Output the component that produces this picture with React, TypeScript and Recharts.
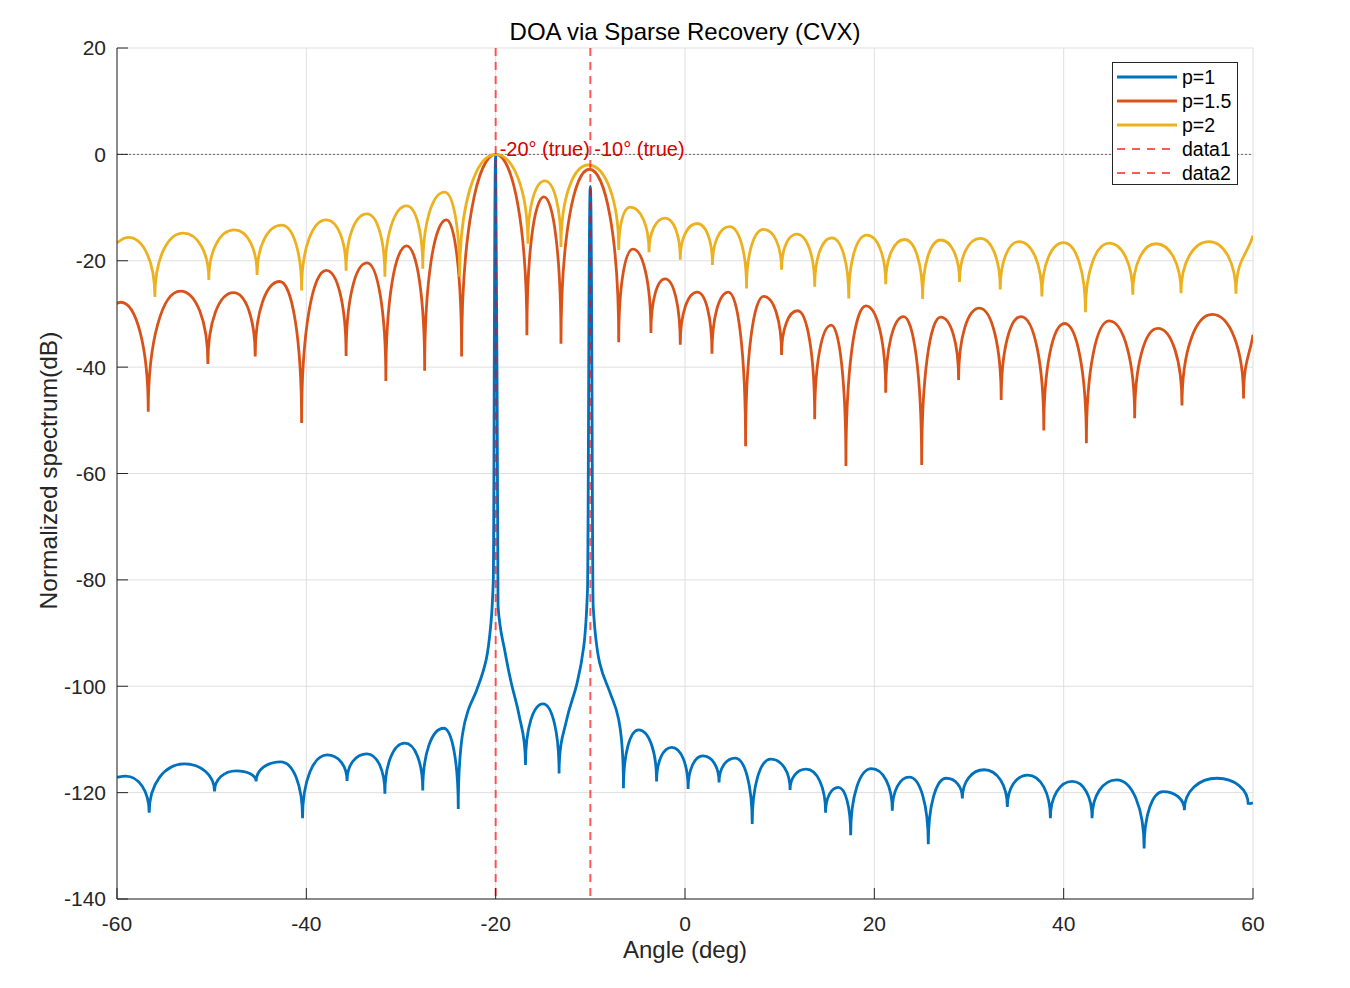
import {
  LineChart,
  Line,
  XAxis,
  YAxis,
  CartesianGrid,
  ReferenceLine,
  ReferenceDot,
  Legend,
} from "recharts"

const FONT = '"Liberation Sans", Arial, Helvetica, sans-serif'
const AXIS = "#262626"

const xTicks = [-60, -40, -20, 0, 20, 40, 60]
const yTicks = [-140, -120, -100, -80, -60, -40, -20, 0, 20]

// p = 1
const p1Angles = [
  -60, -59.1, -56.6, -52.9, -49.7, -47.4, -45.3, -42.7, -40.4, -37.8, -35.7, -33.6, -31.7,
  -29.6, -27.7, -25.5, -23.95, -23.5, -22.9, -22.0, -21.0, -20.5, -20.25, -20.0, -19.75,
  -19.05, -18.35, -17.5, -16.85, -15.0, -13.3, -12.5, -11.4, -10.7, -10.3, -10.0, -9.7, -9.0,
  -7.9, -7.0, -6.5, -4.9, -3.0, -1.4, 0.33, 1.9, 3.6, 5.3, 7.1, 9.05, 11.1, 12.8, 14.85, 16.2,
  17.5, 19.7, 21.9, 23.7, 25.7, 27.6, 29.3, 31.6, 34.05, 36.2, 38.6, 40.9, 43.0, 45.6, 48.5,
  50.5, 52.75, 56.2, 59.5, 60,
]
const p1Db = [
  -117.1, -116.9, -123.8, -114.6, -119.8, -115.9, -117.9, -114.2, -124.8, -112.9, -117.8,
  -112.7, -120.2, -110.7, -119.6, -107.9, -123.1, -109, -104.5, -100.7, -95, -88.2, -80, 0,
  -85, -93.2, -99.4, -105.7, -114.8, -103.3, -116.4, -106.3, -99.4, -92.6, -81.9, -6, -85,
  -95.7, -101.3, -106.3, -119.2, -108.2, -117.9, -111.5, -119.3, -113.1, -118.1, -113.5,
  -125.9, -113.7, -119.5, -115.6, -123.8, -119.0, -128.0, -115.5, -123.4, -117.1, -129.7,
  -117.3, -121.1, -115.7, -122.7, -116.7, -124.8, -117.9, -124.8, -117.6, -130.5, -119.8,
  -123.3, -117.3, -122.3, -121.9,
]

// p = 1.5
const p15Angles = [
  -60, -59.6, -56.7, -53.3, -50.4, -47.7, -45.4, -42.8, -40.5, -37.9, -35.8, -33.6, -31.6,
  -29.4, -27.5, -25.2, -23.6, -20, -16.7, -14.9, -13.1, -10.1, -7.0, -5.5, -3.6, -2.1, -0.5,
  1.3, 2.85, 4.6, 6.4, 8.3, 10.2, 11.9, 13.7, 15.45, 17.0, 19.1, 21.2, 23.1, 25.0, 27.0, 28.9,
  31.1, 33.4, 35.5, 37.9, 40.1, 42.4, 44.8, 47.5, 49.95, 52.5, 55.7, 59.0, 60,
]
const p15Db = [
  -28.0, -27.8, -48.4, -25.7, -39.4, -26.0, -38.0, -23.9, -50.5, -21.8, -37.9, -20.4, -42.6,
  -17.2, -40.7, -12.3, -38.0, 0, -34.0, -8.0, -35.6, -2.8, -35.3, -17.8, -33.6, -23.4, -35.8,
  -25.9, -37.5, -25.9, -54.9, -26.7, -37.7, -29.4, -49.8, -32.1, -58.6, -28.5, -44.8, -30.5,
  -58.4, -30.6, -42.4, -28.9, -46.2, -30.5, -51.9, -31.8, -54.3, -31.3, -49.6, -32.7, -47.2,
  -30.1, -45.9, -33.9,
]

// p = 2
const p2Angles = [
  -60, -58.8, -56.0, -53.0, -50.3, -47.6, -45.2, -42.6, -40.5, -37.9, -35.8, -33.6, -31.7,
  -29.4, -27.7, -25.4, -23.8, -20, -16.6, -14.8, -13.1, -10.2, -7.0, -5.8, -3.8, -2.1, -0.5,
  1.3, 2.9, 4.7, 6.5, 8.3, 10.2, 11.8, 13.7, 15.5, 17.3, 19.2, 21.2, 23.2, 25.1, 27.0, 29.0,
  31.2, 33.3, 35.3, 37.7, 40.0, 42.3, 44.8, 47.3, 49.75, 52.4, 55.35, 58.2, 60,
]
const p2Db = [
  -16.6, -15.6, -26.8, -14.8, -23.6, -14.2, -22.7, -13.3, -25.6, -12.3, -21.9, -11.2, -23.0,
  -9.7, -21.5, -7.1, -23.0, 0, -16.8, -5.0, -17.4, -2.0, -18.0, -9.9, -18.4, -12.0, -19.8,
  -13.0, -20.8, -13.6, -25.2, -14.1, -21.7, -15.0, -24.9, -15.7, -27.1, -15.2, -24.4, -16.0,
  -27.2, -16.1, -24.0, -15.8, -25.4, -16.4, -26.7, -16.6, -29.7, -16.7, -26.4, -16.8, -26.1,
  -16.4, -26.2, -15.3,
]

const seriesNames = ["p=1", "p=1.5", "p=2"]
const seriesColors = ["#0072BD", "#D95319", "#EDB120"]

const trueDoas = [-20, -10]
const doaLabels = ["-20° (true)", "-10° (true)"]
const doaNames = ["data1", "data2"]
const doaColor = "#ff0000"

const toRows = (angles: number[], db: number[]) => angles.map((a, i) => ({ angle: a, db: db[i] }))

const spectra = [toRows(p1Angles, p1Db), toRows(p15Angles, p15Db), toRows(p2Angles, p2Db)]
const doaLines = trueDoas.map((a) => [
  { angle: a, db: yTicks[yTicks.length - 1] },
  { angle: a, db: yTicks[0] },
])

// curve: sharp cusps at nulls, round tops at peaks (like a dB beam pattern)
type Pt = [number, number]
const K_MIN = 0.6
const K_MAX = 0.55

function drawLobes(ctx: any, pts: Pt[]) {
  const n = pts.length
  if (!n) return
  ctx.moveTo(pts[0][0], pts[0][1])
  if (n === 1) return
  const kind: string[] = []
  const slope: number[] = []
  for (let i = 0; i < n; i++) {
    if (i === 0 || i === n - 1) {
      const j = i === 0 ? 1 : n - 2
      kind.push("mid")
      slope.push((pts[i][1] - pts[j][1]) / (pts[i][0] - pts[j][0]))
      continue
    }
    const y = pts[i][1]
    const yp = pts[i - 1][1]
    const yn = pts[i + 1][1]
    if (y < yp && y < yn) {
      kind.push("max")
      slope.push(0)
    } else if (y > yp && y > yn) {
      kind.push("min")
      slope.push(0)
    } else {
      const s0 = (y - yp) / (pts[i][0] - pts[i - 1][0])
      const s1 = (yn - y) / (pts[i + 1][0] - pts[i][0])
      kind.push("mid")
      slope.push(s0 * s1 > 0 ? (2 * s0 * s1) / (s0 + s1) : 0)
    }
  }
  for (let i = 0; i < n - 1; i++) {
    const [x0, y0] = pts[i]
    const [x1, y1] = pts[i + 1]
    const dx = x1 - x0
    const dy = y1 - y0
    let c1x = x0 + dx / 3
    let c1y = y0 + (slope[i] * dx) / 3
    let c2x = x1 - dx / 3
    let c2y = y1 - (slope[i + 1] * dx) / 3
    if (kind[i] === "min") {
      c1x = x0
      c1y = y0 + K_MIN * dy
    } else if (kind[i] === "max") {
      c1x = x0 + K_MAX * dx
      c1y = y0
    }
    if (kind[i + 1] === "min") {
      c2x = x1
      c2y = y1 - K_MIN * dy
    } else if (kind[i + 1] === "max") {
      c2x = x1 - K_MAX * dx
      c2y = y1
    }
    ctx.bezierCurveTo(c1x, c1y, c2x, c2y, x1, y1)
  }
}

const lobeCurve = (context: any) => {
  let pts: Pt[] = []
  return {
    areaStart() {},
    areaEnd() {},
    lineStart() {
      pts = []
    },
    lineEnd() {
      drawLobes(context, pts)
    },
    point(x: number, y: number) {
      pts.push([+x, +y])
    },
  }
}

// MATLAB-style ticks: marks point into the plot
const TICK_LEN = 11
const X_GAP = 17
const Y_GAP = 11

function XTick(props: any) {
  const { x, y, payload } = props
  return (
    <g>
      <line x1={x} x2={x} y1={y - X_GAP} y2={y - X_GAP - TICK_LEN} stroke={AXIS} strokeWidth={1} />
      <text x={x} y={y} dy="0.71em" textAnchor="middle" fontSize={21} fill={AXIS} fontFamily={FONT}>
        {payload.value}
      </text>
    </g>
  )
}

function YTick(props: any) {
  const { x, y, payload } = props
  return (
    <g>
      <line x1={x + Y_GAP} x2={x + Y_GAP + TICK_LEN} y1={y} y2={y} stroke={AXIS} strokeWidth={1} />
      <text x={x} y={y} dy="0.355em" textAnchor="end" fontSize={21} fill={AXIS} fontFamily={FONT}>
        {payload.value}
      </text>
    </g>
  )
}

function doaLabel(text: string) {
  return (props: any) => {
    const vb = props.viewBox
    const cx = vb.x + vb.width / 2
    const cy = vb.y + vb.height / 2
    return (
      <text x={cx + 4} y={cy + 1.5} fill="#d80000" fontSize={20} fontFamily={FONT}>
        {text}
      </text>
    )
  }
}

function LegendBox() {
  const rows = [
    ...seriesNames.map((name, i) => ({ name, color: seriesColors[i], dashed: false })),
    ...doaNames.map((name) => ({ name, color: doaColor, dashed: true })),
  ]
  return (
    <div
      style={{
        width: 126,
        height: 123,
        boxSizing: "border-box",
        border: `1px solid ${AXIS}`,
        background: "#fff",
        paddingTop: 2,
        fontFamily: FONT,
        fontSize: 19.5,
        color: "#000",
      }}
    >
      {rows.map((r) => (
        <div key={r.name} style={{ height: 24, display: "flex", alignItems: "center" }}>
          <svg width={60} height={6} style={{ marginLeft: 4, marginRight: 5 }}>
            <line
              x1={0}
              y1={3}
              x2={60}
              y2={3}
              stroke={r.color}
              strokeWidth={r.dashed ? 2 : 2.8}
              strokeOpacity={r.dashed ? 0.65 : 1}
              strokeDasharray={r.dashed ? "8 7" : undefined}
            />
          </svg>
          <span style={{ lineHeight: "24px" }}>{r.name}</span>
        </div>
      ))}
    </div>
  )
}

export default function App() {
  return (
    <div
      style={{
        position: "absolute",
        left: 0,
        top: 0,
        width: 1350,
        height: 988,
        background: "#fff",
        fontFamily: FONT,
      }}
    >
      <div
        style={{
          position: "absolute",
          left: 117,
          top: 20,
          width: 1136,
          textAlign: "center",
          fontSize: 24,
          lineHeight: "24px",
          color: "#000",
          zIndex: 2,
        }}
      >
        DOA via Sparse Recovery (CVX)
      </div>
      <LineChart width={1350} height={988} margin={{ top: 48, right: 97, left: 0, bottom: 29 }}>
        <CartesianGrid stroke="#dfdfdf" strokeWidth={1} />
        <XAxis
          dataKey="angle"
          type="number"
          domain={[-60, 60]}
          ticks={xTicks}
          allowDataOverflow
          height={60}
          stroke={AXIS}
          tickLine={false}
          tickSize={0}
          tickMargin={X_GAP}
          tick={<XTick />}
          label={(props: any) => {
            const vb = props.viewBox
            return (
              <text
                x={vb.x + vb.width / 2}
                y={vb.y + 59}
                textAnchor="middle"
                fontSize={24}
                fill={AXIS}
                fontFamily={FONT}
              >
                Angle (deg)
              </text>
            )
          }}
        />
        <YAxis
          type="number"
          domain={[-140, 20]}
          ticks={yTicks}
          allowDataOverflow
          width={117}
          stroke={AXIS}
          tickLine={false}
          tickSize={0}
          tickMargin={Y_GAP}
          tick={<YTick />}
          label={(props: any) => {
            const vb = props.viewBox
            const lx = vb.x + 57
            const ly = vb.y + vb.height / 2 - 3
            return (
              <text
                x={lx}
                y={ly}
                transform={`rotate(-90, ${lx}, ${ly})`}
                textAnchor="middle"
                fontSize={24.5}
                fill={AXIS}
                fontFamily={FONT}
              >
                Normalized spectrum(dB)
              </text>
            )
          }}
        />
        <ReferenceLine y={0} stroke="#4a4a4a" strokeWidth={0.8} strokeDasharray="2 2" />
        {spectra.map((rows, i) => (
          <Line
            key={seriesNames[i]}
            data={rows}
            dataKey="db"
            name={seriesNames[i]}
            type={lobeCurve as any}
            stroke={seriesColors[i]}
            strokeWidth={2.8}
            dot={false}
            activeDot={false}
            isAnimationActive={false}
          />
        ))}
        {doaLines.map((rows, i) => (
          <Line
            key={doaNames[i]}
            data={rows}
            dataKey="db"
            name={doaNames[i]}
            type="linear"
            stroke={doaColor}
            strokeOpacity={0.65}
            strokeWidth={2}
            strokeDasharray="8 6"
            dot={false}
            activeDot={false}
            isAnimationActive={false}
          />
        ))}
        {trueDoas.map((a, i) => (
          <ReferenceDot
            key={doaLabels[i]}
            x={a}
            y={0}
            r={1}
            fill="none"
            stroke="none"
            label={doaLabel(doaLabels[i])}
          />
        ))}
        <Legend
          layout="vertical"
          align="center"
          verticalAlign="middle"
          wrapperStyle={{ top: 62, left: 1112, width: 126 }}
          content={() => <LegendBox />}
        />
      </LineChart>
    </div>
  )
}
